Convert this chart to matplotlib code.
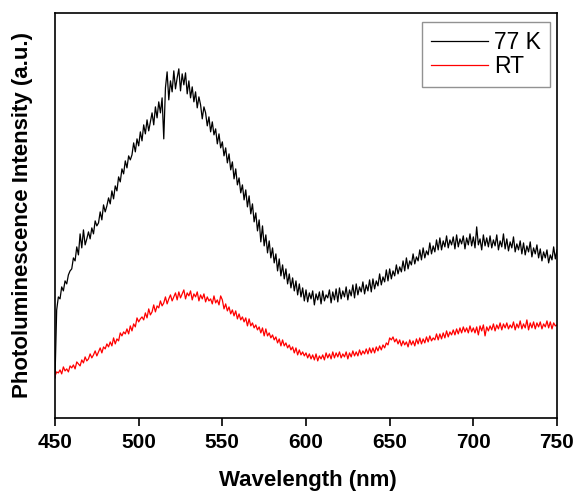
import matplotlib
matplotlib.use('Agg')
from matplotlib import pyplot as plt
import numpy as np

plt.rcParams['font.family'] = ['Liberation Sans', 'DejaVu Sans']

# wavelength grid, 1 nm steps
wavelength = list(range(450, 751))

# 77 K spectrum (a.u.)
pl_77k = [
    40, 108, 121, 119, 131, 127, 137, 134, 143, 147,
    149, 160, 157, 171, 163, 184, 170, 188, 173, 179,
    186, 179, 190, 184, 197, 192, 195, 206, 198, 213,
    206, 212, 220, 214, 227, 219, 232, 227, 241, 236,
    249, 244, 257, 250, 262, 258, 263, 275, 266, 279,
    272, 286, 277, 293, 284, 298, 287, 296, 305, 293,
    311, 300, 316, 305, 320, 279, 330, 346, 318, 337,
    326, 347, 329, 340, 349, 327, 344, 333, 345, 324,
    337, 320, 331, 316, 326, 310, 321, 313, 299, 311,
    305, 292, 301, 286, 296, 283, 289, 274, 284, 270,
    276, 262, 270, 255, 264, 248, 256, 239, 249, 233,
    240, 225, 233, 218, 228, 211, 222, 204, 214, 196,
    205, 187, 198, 176, 192, 172, 183, 165, 177, 160,
    170, 155, 164, 147, 159, 142, 153, 139, 149, 134,
    144, 130, 140, 127, 137, 123, 134, 121, 130, 117,
    128, 116, 125, 119, 127, 113, 124, 118, 126, 114,
    127, 117, 123, 120, 128, 115, 126, 118, 129, 116,
    130, 119, 127, 121, 131, 118, 128, 122, 133, 120,
    134, 123, 131, 126, 136, 124, 133, 127, 138, 126,
    139, 129, 137, 132, 144, 133, 141, 136, 148, 137,
    149, 139, 147, 142, 153, 144, 151, 146, 157, 147,
    160, 149, 157, 153, 164, 154, 161, 157, 168, 158,
    170, 160, 167, 163, 175, 164, 172, 166, 178, 168,
    180, 168, 177, 171, 182, 170, 178, 173, 181, 169,
    183, 171, 179, 174, 182, 169, 180, 173, 184, 172,
    181, 170, 191, 173, 179, 168, 183, 172, 180, 171,
    182, 170, 178, 172, 183, 168, 177, 171, 184, 169,
    179, 167, 176, 170, 181, 166, 174, 168, 177, 164,
    175, 163, 172, 166, 176, 161, 170, 164, 173, 160,
    169, 157, 166, 160, 168, 155, 163, 158, 171, 159,
    168,
]

# room temperature spectrum (a.u.)
pl_rt = [
    42, 46, 45, 48, 44, 51, 47, 49, 46, 52,
    50, 53, 49, 56, 54, 52, 58, 55, 61, 57,
    59, 64, 60, 63, 67, 62, 66, 70, 65, 71,
    69, 74, 71, 76, 72, 80, 74, 79, 77, 85,
    82, 86, 84, 89, 84, 92, 87, 94, 91, 100,
    96, 99, 101, 98, 105, 100, 109, 103, 106, 113,
    106, 112, 110, 117, 112, 115, 121, 114, 119, 123,
    117, 121, 125, 118, 126, 120, 124, 128, 119, 125,
    122, 127, 118, 124, 121, 126, 117, 123, 119, 124,
    116, 121, 117, 119, 114, 122, 115, 118, 113, 122,
    118, 109, 114, 107, 111, 104, 108, 102, 107, 99,
    104, 98, 101, 96, 100, 92, 99, 92, 95, 90,
    93, 88, 91, 85, 90, 82, 89, 82, 85, 80,
    83, 78, 81, 75, 79, 72, 78, 72, 75, 70,
    73, 68, 71, 65, 70, 63, 68, 63, 66, 62,
    65, 60, 64, 59, 63, 58, 64, 57, 62, 59,
    63, 58, 65, 60, 64, 59, 66, 60, 65, 61,
    66, 60, 64, 61, 66, 59, 65, 61, 67, 62,
    66, 62, 68, 63, 67, 64, 69, 64, 70, 65,
    70, 65, 71, 67, 72, 68, 73, 70, 75, 73,
    80, 78, 81, 76, 79, 74, 78, 72, 77, 73,
    76, 71, 78, 73, 77, 72, 79, 74, 80, 74,
    79, 75, 81, 76, 82, 77, 80, 78, 84, 78,
    84, 79, 85, 80, 87, 81, 86, 83, 88, 83,
    89, 84, 90, 85, 91, 86, 90, 85, 92, 86,
    90, 85, 91, 83, 92, 87, 93, 82, 91, 87,
    92, 88, 94, 87, 93, 89, 95, 88, 94, 90,
    95, 89, 93, 90, 96, 88, 94, 90, 97, 89,
    94, 90, 98, 88, 95, 90, 96, 89, 95, 91,
    96, 89, 94, 91, 97, 90, 96, 89, 95, 92,
    93,
]

series_labels = ['77 K', 'RT']
x_ticks = [450, 500, 550, 600, 650, 700, 750]

fig = plt.figure(figsize=(5.79, 4.94), dpi=100)
ax = fig.add_axes([0.095, 0.154, 0.867, 0.82])

ax.plot(wavelength, pl_77k, color='black', lw=0.9, label=series_labels[0])
ax.plot(wavelength, pl_rt, color='#ff0000', lw=0.9, label=series_labels[1])

ax.set_xlim(450, 750)
ax.set_ylim(0, 405)
ax.set_xticks(x_ticks)
ax.set_yticks([])
ax.tick_params(axis='x', direction='out', length=6, width=1.2, labelsize=15, pad=5)
for lbl in ax.get_xticklabels():
    lbl.set_fontweight('bold')
for sp in ax.spines.values():
    sp.set_linewidth(1.2)

ax.set_xlabel('Wavelength (nm)', fontsize=16, fontweight='bold')
ax.set_ylabel('Photoluminescence Intensity (a.u.)', fontsize=16, fontweight='bold')
ax.xaxis.set_label_coords(0.503, -0.128)
ax.yaxis.set_label_coords(-0.044, 0.5)

leg = ax.legend(loc='upper right', bbox_to_anchor=(0.986, 0.978), fontsize=16.5,
                fancybox=False, edgecolor='#777777', handlelength=2.5,
                borderpad=0.4, labelspacing=0.05, handletextpad=0.25,
                borderaxespad=0)
leg.get_frame().set_linewidth(1.0)

plt.savefig('out.png', dpi=100)
